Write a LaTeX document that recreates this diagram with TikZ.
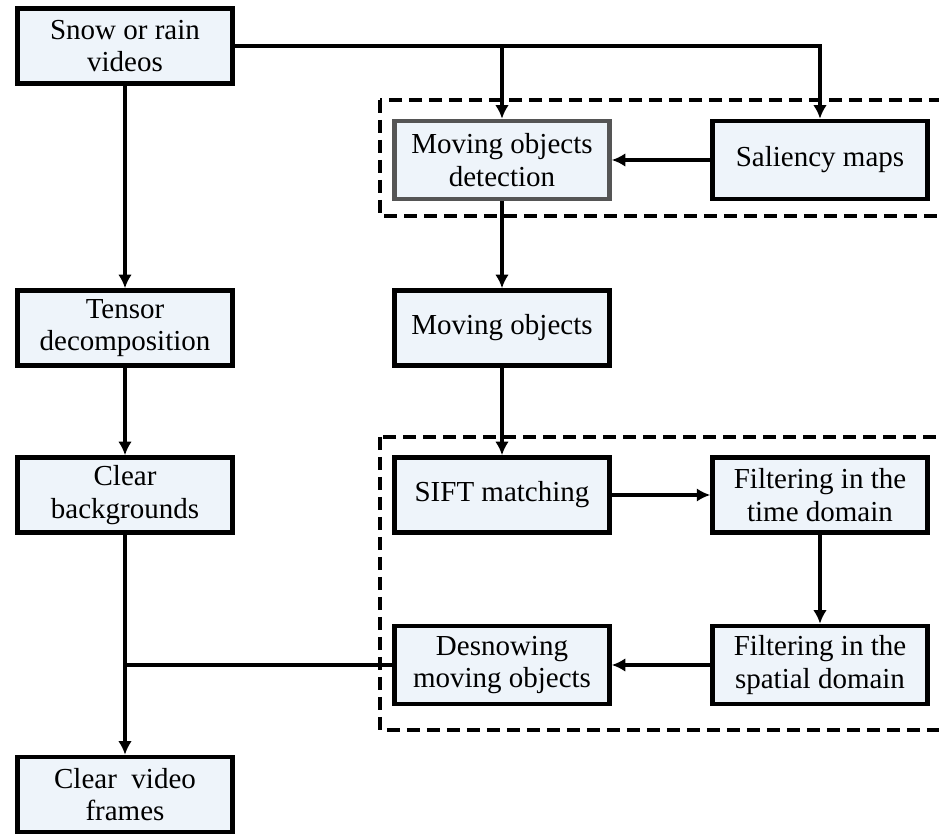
\documentclass[tikz,border=0pt]{standalone}
\usepackage{fontspec}
\setmainfont{Liberation Serif}
\usepackage{tikz}
\usetikzlibrary{arrows.meta}
\definecolor{boxfill}{HTML}{EEF4FA}
\definecolor{boxgray}{HTML}{555555}

\begin{document}
\begin{tikzpicture}[>={Latex[length=2.7mm,width=2.7mm]},
        stage/.style={draw=black, line width=0.09cm, fill=boxfill, align=center,
            minimum width=4.3cm, minimum height=1.5cm, inner sep=0pt,
            font=\fontsize{16.5}{18.6}\selectfont},
        flow/.style={line width=0.075cm},
        group/.style={line width=0.08cm, dash pattern=on 0.26cm off 0.14cm}]
            % page frame
            \clip (0cm,0cm) rectangle (18.78cm,-16.72cm);

            % the two dashed groups
            \draw[group] (7.6cm,-2.0cm) rectangle (19.5cm,-4.32cm);
            \draw[group] (7.6cm,-8.74cm) rectangle (19.5cm,-14.6cm);

            % left column
            \node[stage] (snow) at (2.5cm,-0.92cm) {Snow or rain\\videos};
            \node[stage] (tensor) at (2.5cm,-6.56cm) {Tensor\\decomposition};
            \node[stage] (clearbg) at (2.5cm,-9.9cm) {Clear\\backgrounds};
            \node[stage] (clearframes) at (2.5cm,-15.89cm) {Clear~~video\\frames};

            % detection group
            \node[stage, draw=boxgray, minimum height=1.56cm] (detect) at (10.04cm,-3.2cm) {Moving objects\\detection};
            \node[stage, minimum height=1.56cm] (saliency) at (16.4cm,-3.2cm) {Saliency maps};

            % moving objects
            \node[stage] (moving) at (10.04cm,-6.56cm) {Moving objects};

            % desnowing group
            \node[stage] (sift) at (10.04cm,-9.9cm) {SIFT matching};
            \node[stage] (ftime) at (16.4cm,-9.9cm) {Filtering in the\\time domain};
            \node[stage, minimum height=1.56cm] (fspace) at (16.4cm,-13.3cm) {Filtering in the\\spatial domain};
            \node[stage, minimum height=1.56cm] (desnow) at (10.04cm,-13.3cm) {Desnowing\\moving objects};

            % connectors
            \draw[flow, ->] (snow.east) -| (saliency.north);
            \draw[flow, ->] (snow.east -| detect.north) -- (detect.north);
            \draw[flow, ->] (saliency.west) -- (detect.east);
            \draw[flow, ->] (detect.south) -- (moving.north);
            \draw[flow, ->] (moving.south) -- (sift.north);
            \draw[flow, ->] (sift.east) -- (ftime.west);
            \draw[flow, ->] (ftime.south) -- (fspace.north);
            \draw[flow, ->] (fspace.west) -- (desnow.east);
            \draw[flow, ->] (snow.south) -- (tensor.north);
            \draw[flow, ->] (tensor.south) -- (clearbg.north);
            \draw[flow, ->] (clearbg.south) -- (clearframes.north);
            \draw[flow] (desnow.west) -- (desnow.west -| clearbg.south);
        \end{tikzpicture}
\end{document}
